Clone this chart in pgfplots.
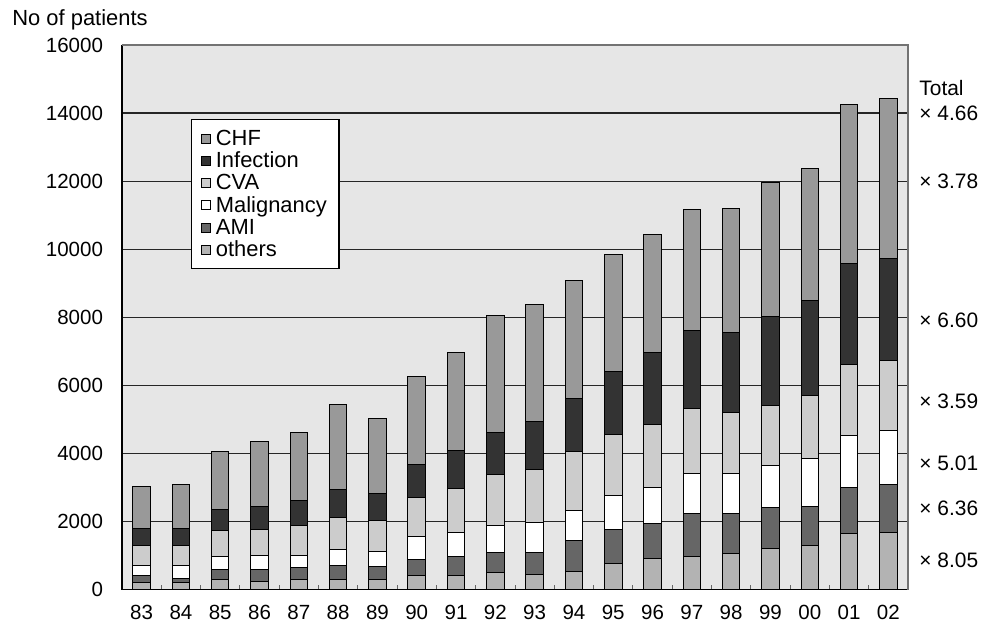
\documentclass[border=0pt]{standalone}
\usepackage{pgfplots}
\usepackage{pgfplotstable}
\pgfplotsset{compat=1.18}
\usepackage{fontspec}
\setmainfont{Liberation Sans}
\definecolor{cOthers}{HTML}{B3B3B3}
\definecolor{cAMI}{HTML}{666666}
\definecolor{cMal}{HTML}{FFFFFF}
\definecolor{cCVA}{HTML}{CCCCCC}
\definecolor{cInf}{HTML}{333333}
\definecolor{cCHF}{HTML}{999999}
\definecolor{cBG}{HTML}{E6E6E6}
\tikzset{rlab/.style={anchor=west, inner sep=0pt, font=\fontsize{10.5}{12}\selectfont}}
\pgfplotstableread{
x  others ami  mal  cva  inf  chf
0  200    217  283  599  479  1234
1  200    129  371  599  479  1302
2  299    294  382  765  606  1704
3  230    372  403  764  676  1910
4  300    361  344  861  755  2007
5  300    411  459  940  814  2507
6  300    382  429  922  782  2204
7  397    470  705  1128 979  2586
8  397    567  706  1304 1116 2880
9  494    599  782  1510 1234 3427
10 435    658  882  1537 1410 3447
11 535    911  861  1743 1548 3477
12 770    999  979  1792 1860 3450
13 905    1029 1069 1851 2116 3447
14 964    1275 1176 1910 2271 3556
15 1063   1176 1176 1792 2341 3642
16 1199   1216 1243 1754 2624 3919
17 1299   1146 1399 1871 2785 3857
18 1631   1352 1528 2107 2976 4644
19 1669   1422 1567 2066 2988 4722
}\data
\begin{document}
\begin{tikzpicture}
\begin{axis}[
  width=393bp, height=272.25bp, scale only axis,
  font=\fontsize{10.3}{12}\selectfont,
  ybar stacked, bar width=8.75bp,
  xmin=-0.5, xmax=19.5, ymin=0, ymax=16000,
  xtick={0,...,19},
  xticklabels={83,84,85,86,87,88,89,90,91,92,93,94,95,96,97,98,99,00,01,02},
  minor xtick={0.5,1.5,...,18.5},
  ytick={0,2000,...,16000},
  xtick pos=bottom, ytick pos=left,
  tick align=inside,
  major tick length=0pt, minor tick length=2.2bp,
  minor tick style={black!60, line width=0.5bp},
  ymajorgrids, major grid style={black!85, line width=0.6bp},
  axis line style={draw=none},
  axis background/.style={fill=cBG},
  clip=false,
  yticklabel style={xshift=-6bp},
  xticklabel style={yshift=-4.3bp},
  /pgf/number format/assume math mode=true,
  /pgf/number format/1000 sep={},
  scaled y ticks=false,
  every axis plot/.append style={draw=black, line width=0.5bp},
  reverse legend,
  legend cell align=left,
  legend image code/.code={\draw[#1, line width=0.4bp] (0bp,-2.25bp) rectangle (4.5bp,2.25bp); \path (6.2bp,0bp);},
  legend style={at={(0.0878,0.8641)}, anchor=north west, draw=black, line width=0.6bp, fill=white,
    inner xsep=4.5bp, inner ysep=4bp, row sep=0bp, column sep=0bp,
    nodes={inner sep=1bp, text height=8bp, text depth=1.1bp},
    font=\fontsize{11}{13}\selectfont},
]
\addplot[fill=cOthers] table[x=x,y=others]{\data};
\addlegendentry{\makebox[56bp][l]{others}}
\addplot[fill=cAMI] table[x=x,y=ami]{\data};
\addlegendentry{AMI}
\addplot[fill=cMal] table[x=x,y=mal]{\data};
\addlegendentry{Malignancy}
\addplot[fill=cCVA] table[x=x,y=cva]{\data};
\addlegendentry{CVA}
\addplot[fill=cInf] table[x=x,y=inf]{\data};
\addlegendentry{Infection}
\addplot[fill=cCHF] table[x=x,y=chf]{\data};
\addlegendentry{CHF}
\draw[black!55, line width=0.6bp] (rel axis cs:0,1) -- (rel axis cs:1,1) -- (rel axis cs:1,0);
\draw[black, line width=0.7bp] (rel axis cs:0,1) -- (rel axis cs:0,0) -- (rel axis cs:1,0);
\node[anchor=base west, inner sep=0pt, font=\fontsize{11}{13}\selectfont] at (rel axis cs:-0.13995,1.03489) {No of patients};
\node[rlab] at (axis cs:19.78,14728) {Total};
\node[rlab] at (axis cs:19.78,13993) {× 4.66};
\node[rlab] at (axis cs:19.78,11983) {× 3.78};
\node[rlab] at (axis cs:19.78,7919) {× 6.60};
\node[rlab] at (axis cs:19.78,5539) {× 3.59};
\node[rlab] at (axis cs:19.78,3708) {× 5.01};
\node[rlab] at (axis cs:19.78,2386) {× 6.36};
\node[rlab] at (axis cs:19.78,867) {× 8.05};
\coordinate (bbsw) at (rel axis cs:-0.15522,-0.061524);
\coordinate (bbne) at (rel axis cs:1.09288,1.08264);
\end{axis}
\pgfresetboundingbox
\useasboundingbox (bbsw) rectangle (bbne);
\end{tikzpicture}
\end{document}
